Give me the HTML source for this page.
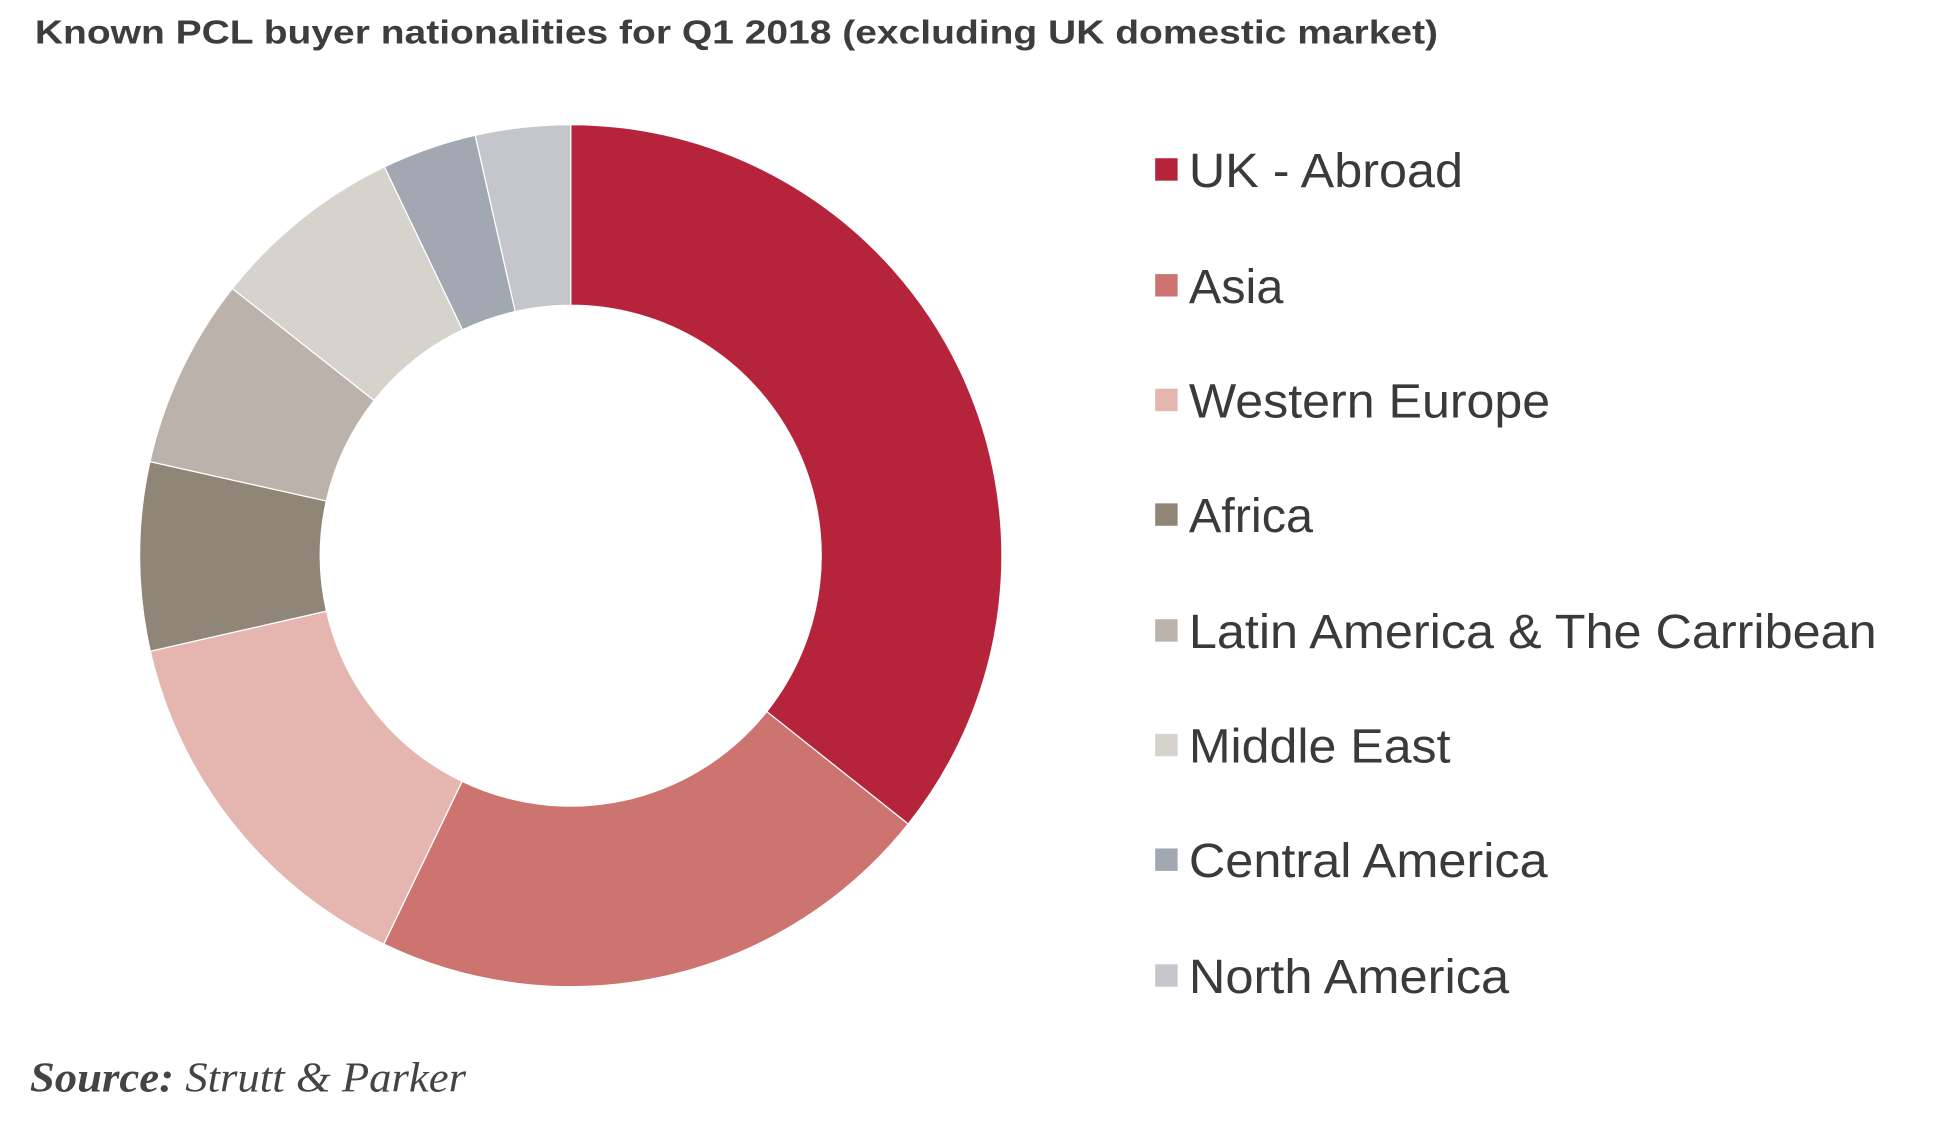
<!DOCTYPE html>
<html><head><meta charset="utf-8"><style>
html,body{margin:0;padding:0;background:#fff;}
svg{display:block;}
</style></head><body>
<svg id="s" width="1944" height="1140" viewBox="0 0 1560 915" preserveAspectRatio="none" xmlns="http://www.w3.org/2000/svg">
<text x="28" y="35" font-family="Liberation Sans, sans-serif" font-weight="bold" font-size="27" fill="#3d3d3d" textLength="1126" lengthAdjust="spacingAndGlyphs">Known PCL buyer nationalities for Q1 2018 (excluding UK domestic market)</text>
<g id="donut"></g>
<g font-family="Liberation Sans, sans-serif" font-size="39" fill="#3a3a3a">
<rect x="927" y="127" width="18" height="18" fill="#b5243b"/><text x="954" y="150" textLength="220" lengthAdjust="spacingAndGlyphs">UK - Abroad</text>
<rect x="927" y="220" width="18" height="18" fill="#cd7370"/><text x="954" y="243">Asia</text>
<rect x="927" y="312" width="18" height="18" fill="#e5b5b0"/><text x="954" y="335" textLength="290" lengthAdjust="spacingAndGlyphs">Western Europe</text>
<rect x="927" y="404" width="18" height="18" fill="#8f8677"/><text x="954" y="427">Africa</text>
<rect x="927" y="497" width="18" height="18" fill="#bbb3ab"/><text x="954" y="520" textLength="552" lengthAdjust="spacingAndGlyphs">Latin America &amp; The Carribean</text>
<rect x="927" y="589" width="18" height="18" fill="#d6d2cc"/><text x="954" y="612" textLength="210" lengthAdjust="spacingAndGlyphs">Middle East</text>
<rect x="927" y="681" width="18" height="18" fill="#a1a8b1"/><text x="954" y="704" textLength="288" lengthAdjust="spacingAndGlyphs">Central America</text>
<rect x="927" y="774" width="18" height="18" fill="#c5c6cc"/><text x="954" y="797" textLength="257" lengthAdjust="spacingAndGlyphs">North America</text>
</g>
<text x="24" y="876" font-family="Liberation Serif, serif" font-style="italic" font-size="34" fill="#444" textLength="350" lengthAdjust="spacingAndGlyphs"><tspan font-weight="bold">Source:</tspan> Strutt &amp; Parker</text>
</svg>
<script>
var cx=458,cy=446,R=346,r=201;
var ends=[128.5,205.7,257.2,282.6,308.3,334.4,347.2,360];
var cols=["#b5243b","#cd7370","#e5b5b0","#8f8677","#bbb3ab","#d6d2cc","#a1a8b1","#c5c6cc"];
function p(a,rad){var t=a*Math.PI/180;return [cx+rad*Math.sin(t),cy-rad*Math.cos(t)];}
var g=document.getElementById("donut"),s=0,h="";
for(var i=0;i<ends.length;i++){var e=ends[i],l=(e-s)>180?1:0;
var a=p(s,R),b=p(e,R),c=p(e,r),d=p(s,r);
h+='<path fill="'+cols[i]+'" stroke="#fff" stroke-width="1" d="M'+a+' A'+R+' '+R+' 0 '+l+' 1 '+b+' L'+c+' A'+r+' '+r+' 0 '+l+' 0 '+d+' Z"/>';s=e;}
g.innerHTML=h;
</script>
</body></html>
